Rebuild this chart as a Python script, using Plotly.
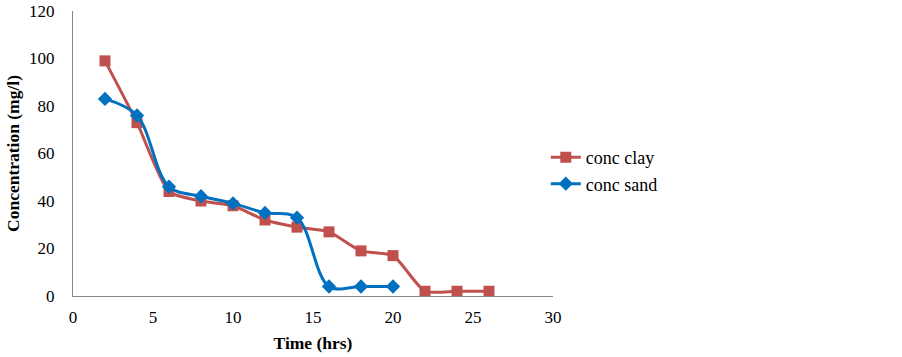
import plotly.graph_objects as go

clay_time = [2, 4, 6, 8, 10, 12, 14, 16, 18, 20, 22, 24, 26]
clay_conc = [99, 73, 44, 40, 38, 32, 29, 27, 19, 17, 2, 2, 2]
sand_time = [2, 4, 6, 8, 10, 12, 14, 16, 18, 20]
sand_conc = [83, 76, 46, 42, 39, 35, 33, 4, 4, 4]

FONT = "Liberation Serif"

fig = go.Figure()
fig.add_trace(go.Scatter(
    x=clay_time, y=clay_conc, name="conc clay", mode="lines+markers",
    line=dict(color="#C0504D", width=3, shape="spline", smoothing=0.6),
    marker=dict(symbol="square", size=11, color="#C0504D"),
))
fig.add_trace(go.Scatter(
    x=sand_time, y=sand_conc, name="conc sand", mode="lines+markers",
    line=dict(color="#0070C0", width=3, shape="spline", smoothing=1),
    marker=dict(symbol="diamond", size=11, color="#0070C0"),
))

fig.update_layout(
    width=902, height=357,
    margin=dict(l=73, r=349, t=11, b=61, autoexpand=False),
    paper_bgcolor="white", plot_bgcolor="white",
    font=dict(family=FONT, size=17, color="black"),
    showlegend=True,
    legend=dict(x=0.985, y=0.44, xanchor="left", yanchor="middle",
                font=dict(family=FONT, size=18, color="black"),
                itemwidth=30, tracegroupgap=8, bgcolor="rgba(0,0,0,0)"),
    xaxis=dict(range=[0, 30], dtick=5, showgrid=False, zeroline=False,
               showline=True, linecolor="#868686", linewidth=1, ticks="",
               ticklabelstandoff=6, automargin=False,
               tickfont=dict(family=FONT, size=17),
               title=dict(text="<b>Time (hrs)</b>", font=dict(family=FONT, size=17.5), standoff=10)),
    yaxis=dict(range=[0, 120], dtick=20, showgrid=False, zeroline=False,
               showline=True, linecolor="#868686", linewidth=1, ticks="",
               ticklabelstandoff=14, automargin=False,
               tickfont=dict(family=FONT, size=17),
               title=dict(text="<b>Concentration (mg/l)</b>", font=dict(family=FONT, size=17.5), standoff=4)),
)

fig.write_html("out.html")
